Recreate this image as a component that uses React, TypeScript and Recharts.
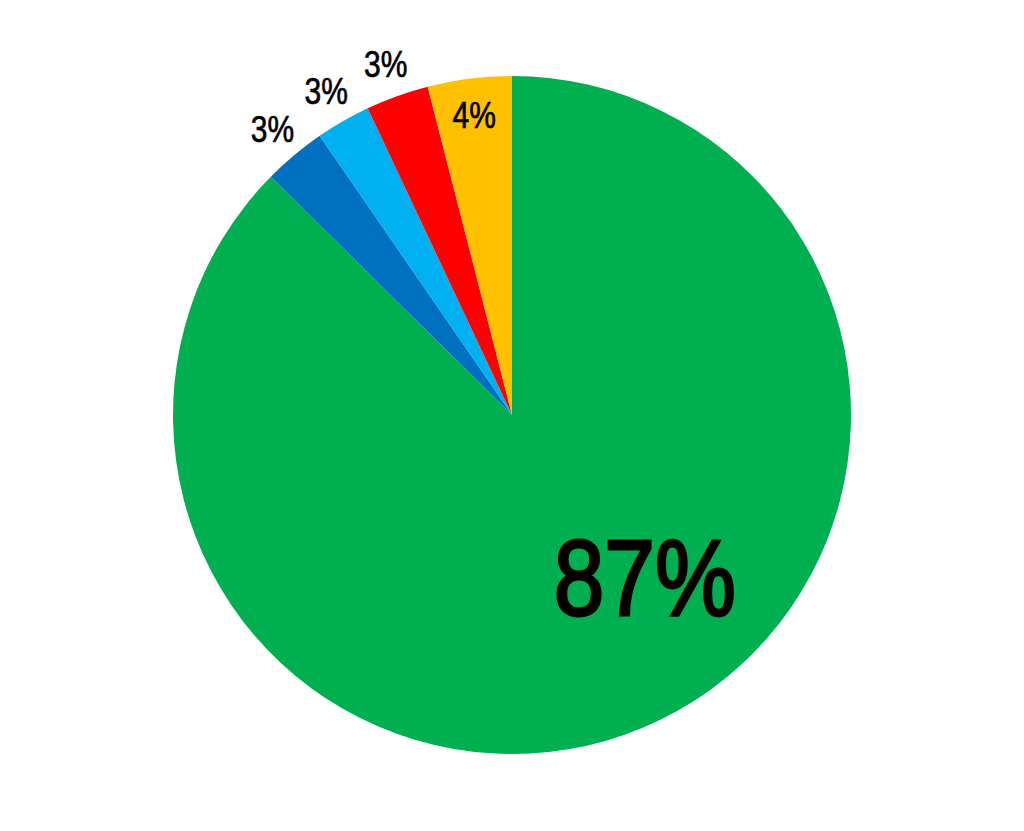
import React from "react";
import { PieChart, Pie, Cell } from "recharts";

const categories = ["A", "B", "C", "D", "E"];
const values = [87.4, 3.0, 2.6, 3.0, 4.0];
const colors = ["#00B050", "#0070C0", "#00B0F0", "#FF0000", "#FFC000"];

const data = categories.map((name, i) => ({ name, value: values[i] }));

const RAD = Math.PI / 180;
const FONT = "'Liberation Sans', Arial, sans-serif";

const renderLabel = (props: any) => {
  const { cx, cy, midAngle, outerRadius, percent, index } = props;
  const text = `${Math.round(percent * 100)}%`;
  let r: number;
  let ang = midAngle;
  let size = 37;
  let sw = 0.7;
  let sx = 0.81;
  if (index === 0) {
    r = outerRadius * 0.62;
    ang = midAngle + 16.5;
    size = 107;
    sw = 3;
    sx = 0.85;
  } else if (index === 4) {
    r = outerRadius * 0.89;
  } else {
    r = outerRadius * 1.1;
  }
  const x = cx + r * Math.cos(-ang * RAD);
  const y = cy + r * Math.sin(-ang * RAD);
  return (
    <text
      x={0}
      y={0}
      transform={`translate(${x},${y}) scale(${sx},1)`}
      fill="#000"
      stroke="#000"
      strokeWidth={sw}
      textAnchor="middle"
      dominantBaseline="central"
      fontFamily={FONT}
      fontSize={size}
    >
      {text}
    </text>
  );
};

export default function App() {
  return (
    <div style={{ position: "absolute", left: 0, top: 0, width: 1024, height: 831, background: "#fff" }}>
      <PieChart width={1024} height={831} margin={{ top: 0, right: 0, bottom: 0, left: 0 }}>
        <Pie
          data={data}
          dataKey="value"
          cx={512}
          cy={415}
          outerRadius={339}
          startAngle={90}
          endAngle={-270}
          stroke="none"
          label={renderLabel}
          labelLine={false}
          isAnimationActive={false}
        >
          {data.map((d, i) => (
            <Cell key={d.name} fill={colors[i]} />
          ))}
        </Pie>
      </PieChart>
    </div>
  );
}
